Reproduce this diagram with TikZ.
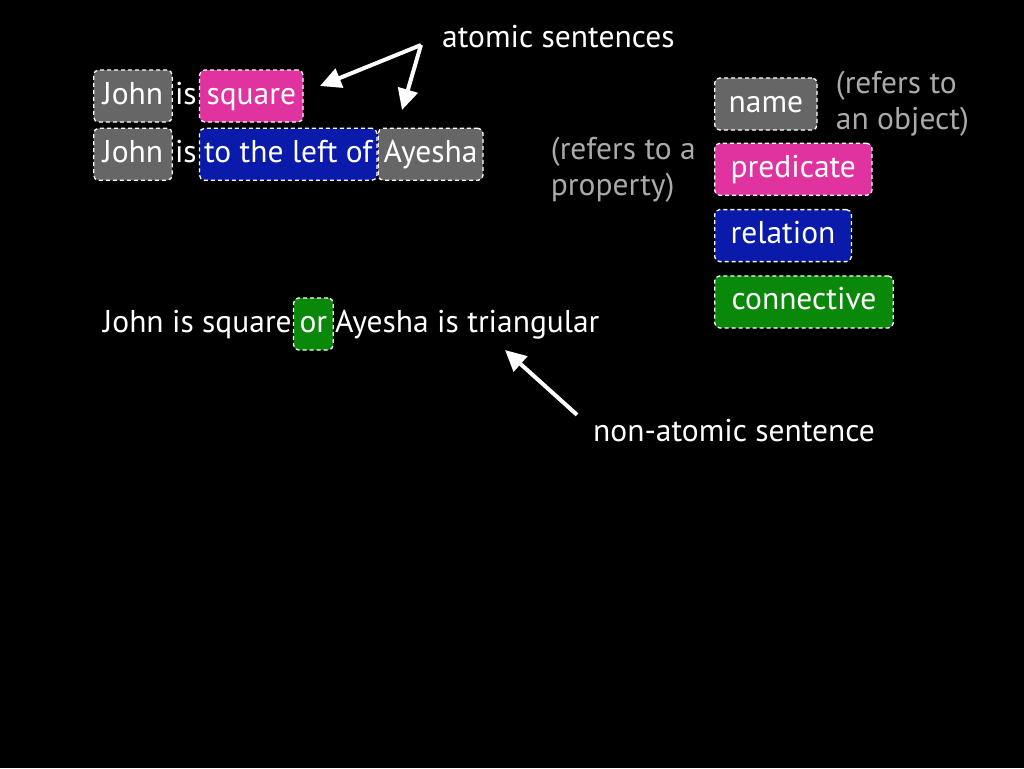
\documentclass[tikz,border=0pt]{standalone}
\usepackage{fontspec}
\setmainfont{PT Sans}
\usetikzlibrary{arrows.meta,positioning,calc}
\definecolor{namegray}{HTML}{666666}
\definecolor{predpink}{HTML}{E0339F}
\definecolor{relblue}{HTML}{0A1AAA}
\definecolor{conngreen}{HTML}{0A880A}
\definecolor{notegray}{HTML}{AAAAAA}
\begin{document}
\begin{tikzpicture}[
  x=1pt,y=-1pt,
  node distance=0pt,
  word/.style={font=\fontsize{31.5}{36}\selectfont,text=white,inner sep=0pt,text height=23pt,text depth=7pt},
  tag/.style={word,draw=white,dash pattern=on 4pt off 3pt,line width=1.3pt,rounded corners=5pt,minimum height=52pt,inner xsep=9pt},
  namebox/.style={tag,fill=namegray},
  predbox/.style={tag,fill=predpink},
  relbox/.style={tag,fill=relblue},
  connbox/.style={tag,fill=conngreen},
  note/.style={word,text=notegray,align=left,text height=,text depth=},
  arrow/.style={-{Triangle[length=21pt,width=20pt]},line width=4pt,white}
]
\fill[black] (0,0) rectangle (1024,768);
\node[namebox,anchor=west] (john1) at (93,96) {John};
\node[word,right=of john1,inner xsep=2pt] (is1) {is};
\node[predbox,right=of is1,inner xsep=7pt] (square) {square};
\node[namebox,below=5pt of john1] (john2) {John};
\node[word,right=of john2,inner xsep=2pt] (is2) {is};
\node[relbox,right=of is2,inner xsep=4.5pt] (leftof) {to the left of};
\node[namebox,right=of leftof,inner xsep=5.5pt] (ayesha) {Ayesha};
\node[word,anchor=west] (atomic) at (442,40) {atomic sentences};
\coordinate (apex) at (421,45);
\coordinate (tipa) at (320,86);
\coordinate (tipb) at (402,110);
\draw[arrow] (apex) -- (tipa);
\draw[arrow] (apex) -- (tipb);
\node[namebox,anchor=west,inner xsep=14pt] (name) at (714,104) {name};
\node[predbox,below=12pt of name.south west,anchor=north west,inner xsep=16pt] (predicate) {predicate};
\node[relbox,below=13pt of predicate.south west,anchor=north west,inner xsep=16pt] (relation) {relation};
\node[connbox,below=13pt of relation.south west,anchor=north west,inner xsep=17pt] (connective) {connective};
\node[note,right=18pt of name] (objnote) {(refers to\\an object)};
\node[note,left=18pt of predicate] (propnote) {(refers to a\\property)};
\node[word,anchor=west] (lhs) at (103,324) {John is square};
\node[connbox,right=1pt of lhs,inner xsep=6pt] (or) {or};
\node[word,right=1pt of or] (rhs) {Ayesha is triangular};
\node[word,anchor=west] (nonatomic) at (593,433) {non-atomic sentence};
\coordinate (tipc) at (505,350);
\draw[arrow] ([xshift=-16pt,yshift=3pt]nonatomic.north west) -- (tipc);
\end{tikzpicture}
\end{document}
